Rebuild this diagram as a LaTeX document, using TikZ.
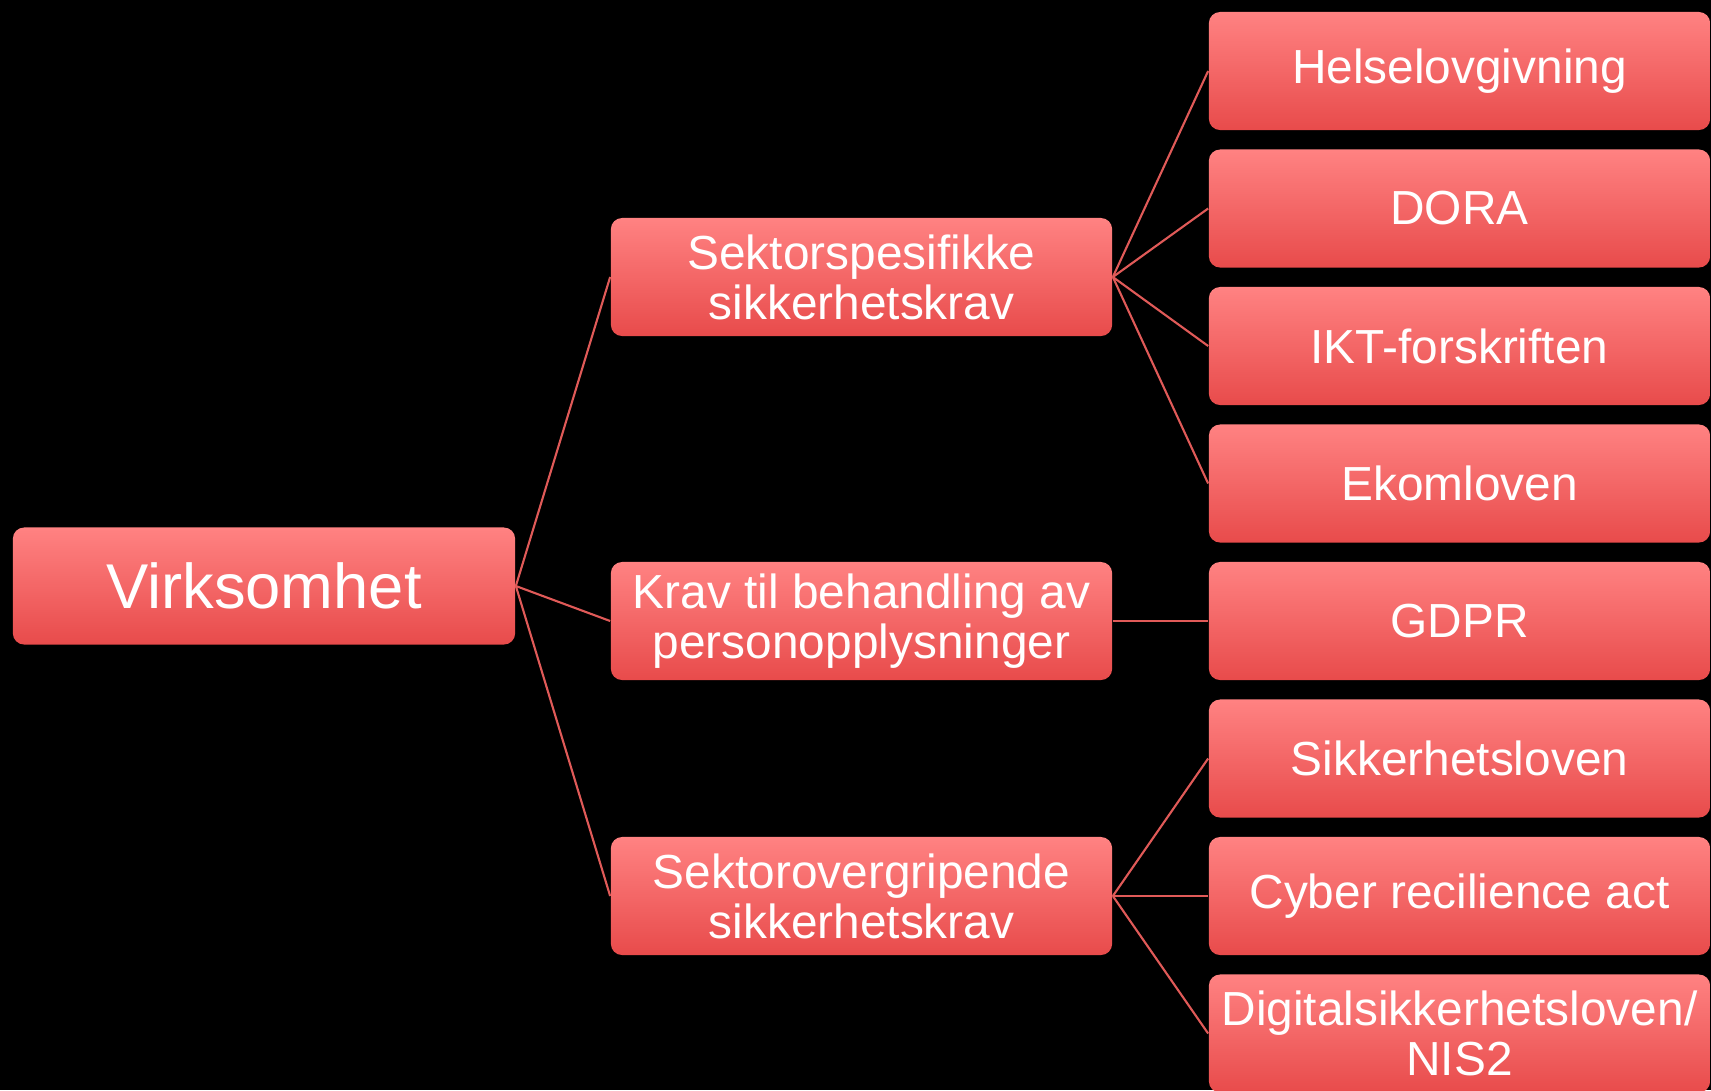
\documentclass[tikz,border=0pt]{standalone}
\usepackage{fontspec}
\setmainfont{Liberation Sans}
\usetikzlibrary{positioning}
\definecolor{BoxTop}{HTML}{FF8282}
\definecolor{BoxMid}{HTML}{FF5C5C}
\definecolor{BoxBottom}{HTML}{E84B4B}
\definecolor{LinkRed}{HTML}{E05A58}
\tikzset{
  reqBox/.style={rectangle,rounded corners=3.2pt,draw=none,
    top color=BoxTop,middle color=BoxMid,bottom color=BoxBottom,
    minimum width=5.01cm,minimum height=1.18cm,inner sep=0pt,
    align=center,text=white,font=\fontsize{13.6}{14.2}\selectfont},
  rootBox/.style={reqBox,minimum width=5.02cm,minimum height=1.17cm,
    font=\fontsize{18}{20}\selectfont},
  link/.style={draw=LinkRed,line width=.6pt}
}
\begin{document}
\begin{tikzpicture}[x=.01cm,y=-.01cm]
  % Background and page frame
  \fill[black] (0,0) rectangle (1711,1090);
  \useasboundingbox (0,0) rectangle (1711,1090);

  % Root
  \node[rootBox] (virk) at (264,586) {Virksomhet};

  % Requirement groups
  \node[reqBox] (sektor) at (861.5,277) {Sektorspesifikke\\sikkerhetskrav};
  \node[reqBox] (person) at (861.5,621) {Krav til behandling av\\personopplysninger};
  \node[reqBox] (tverr) at (861.5,896) {Sektorovergripende\\sikkerhetskrav};

  % Laws and regulations
  \node[reqBox] (helse) at (1459.5,71) {Helselovgivning};
  \node[reqBox] (dora) at (1459.5,208.5) {DORA};
  \node[reqBox] (ikt) at (1459.5,346) {IKT-forskriften};
  \node[reqBox] (ekom) at (1459.5,483.5) {Ekomloven};
  \node[reqBox] (gdpr) at (1459.5,621) {GDPR};
  \node[reqBox] (sikk) at (1459.5,758.5) {Sikkerhetsloven};
  \node[reqBox] (cra) at (1459.5,896) {Cyber recilience act};
  \node[reqBox] (nis) at (1459.5,1033.5) {Digitalsikkerhetsloven/\\NIS2};

  % Connectors
  \draw[link] (virk.east)--(sektor.west); \draw[link] (virk.east)--(person.west);
  \draw[link] (virk.east)--(tverr.west);
  \draw[link] (sektor.east)--(helse.west); \draw[link] (sektor.east)--(dora.west);
  \draw[link] (sektor.east)--(ikt.west); \draw[link] (sektor.east)--(ekom.west);
  \draw[link] (person.east)--(gdpr.west);
  \draw[link] (tverr.east)--(sikk.west); \draw[link] (tverr.east)--(cra.west);
  \draw[link] (tverr.east)--(nis.west);
\end{tikzpicture}
\end{document}
